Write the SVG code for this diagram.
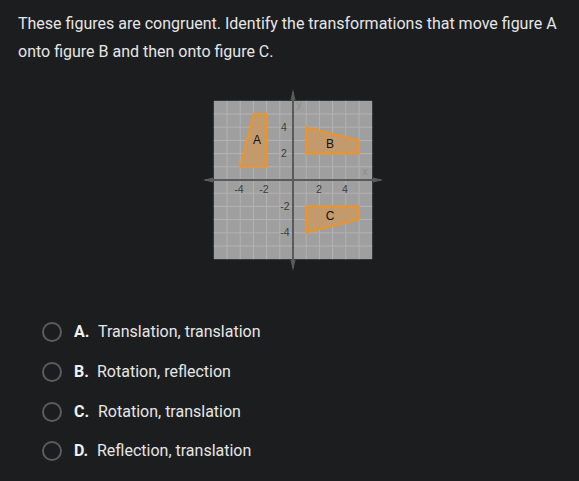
<svg xmlns="http://www.w3.org/2000/svg" width="579" height="481" viewBox="0 0 579 481">
<style>
.t{font-family:Roboto,"Liberation Sans",sans-serif;fill:#e6e6e6;font-size:16px}
.b{font-weight:bold;fill:#f0f0f0}
.g{stroke:#b3b3b3;stroke-width:1}
.ax{stroke:#5a5a5a;stroke-width:2}
.tk{font-family:"Liberation Sans",Arial,sans-serif;font-size:10.5px;fill:#3c3c3c;text-anchor:middle}
.sh{fill:#c39a6c;stroke:#f5921e;stroke-width:1.6}
.lb{font-family:"Liberation Sans",Arial,sans-serif;font-size:12px;fill:#111;text-anchor:middle}
.rd{fill:none;stroke:#5c5c5c;stroke-width:2}
</style>
<rect width="579" height="481" fill="#1c1d1f"/>
<text class="t" x="18" y="29">These figures are congruent. Identify the transformations that move figure A</text>
<text class="t" x="18" y="57">onto figure B and then onto figure C.</text>
<g id="graph">
<rect x="213.8" y="100.8" width="158.4" height="158.4" fill="#9f9f9f"/>
<g class="g">
<path d="M227 100.8V259.2M240.2 100.8V259.2M253.4 100.8V259.2M266.6 100.8V259.2M279.8 100.8V259.2M306.2 100.8V259.2M319.4 100.8V259.2M332.6 100.8V259.2M345.8 100.8V259.2M359 100.8V259.2"/>
<path d="M213.8 114H372.2M213.8 127.2H372.2M213.8 140.4H372.2M213.8 153.6H372.2M213.8 166.8H372.2M213.8 193.2H372.2M213.8 206.4H372.2M213.8 219.6H372.2M213.8 232.8H372.2M213.8 246H372.2"/>
</g>
<g id="axes" fill="#5a5a5a">
<path class="ax" d="M205 180H381M293 92V268"/>
<polygon points="203,180 213,177.5 213,182.5"/>
<polygon points="383,180 373,177.5 373,182.5"/>
<polygon points="293,89 290.5,100 295.5,100"/>
<polygon points="293,271 290.5,260 295.5,260"/>
</g>
<text class="tk" x="239" y="193">-4</text>
<text class="tk" x="264" y="193">-2</text>
<text class="tk" x="319" y="193">2</text>
<text class="tk" x="345" y="193">4</text>
<text class="tk" x="284" y="131">4</text>
<text class="tk" x="284" y="157">2</text>
<text class="tk" x="285" y="210">-2</text>
<text class="tk" x="285" y="236">-4</text>
<text class="tk" x="299" y="108" font-size="8" style="fill:#8c8c8c">y</text>
<text class="tk" x="365" y="175" style="fill:#8c8c8c" font-size="8">x</text>
</g>
<g id="A">
<polygon class="sh" points="240.2,166.8 253.4,114 266.6,114 266.6,166.8"/>
<text class="lb" x="257" y="144">A</text>
</g>
<g id="B">
<polygon class="sh" points="306.2,153.6 306.2,127.2 359,140.4 359,153.6"/>
<text class="lb" x="330" y="148">B</text>
</g>
<g id="C">
<polygon class="sh" points="306.2,206.4 306.2,232.8 359,219.6 359,206.4"/>
<text class="lb" x="330" y="220">C</text>
</g>
<g id="optA"><circle class="rd" cx="52" cy="332" r="9"/><text class="t b" x="74" y="337">A.</text><text class="t" x="98" y="337">Translation, translation</text></g>
<g id="optB"><circle class="rd" cx="52" cy="372" r="9"/><text class="t b" x="74" y="377">B.</text><text class="t" x="97" y="377">Rotation, reflection</text></g>
<g id="optC"><circle class="rd" cx="52" cy="412" r="9"/><text class="t b" x="74" y="417">C.</text><text class="t" x="98" y="417">Rotation, translation</text></g>
<g id="optD"><circle class="rd" cx="52" cy="451" r="9"/><text class="t b" x="74" y="456">D.</text><text class="t" x="97" y="456">Reflection, translation</text></g>
</svg>
